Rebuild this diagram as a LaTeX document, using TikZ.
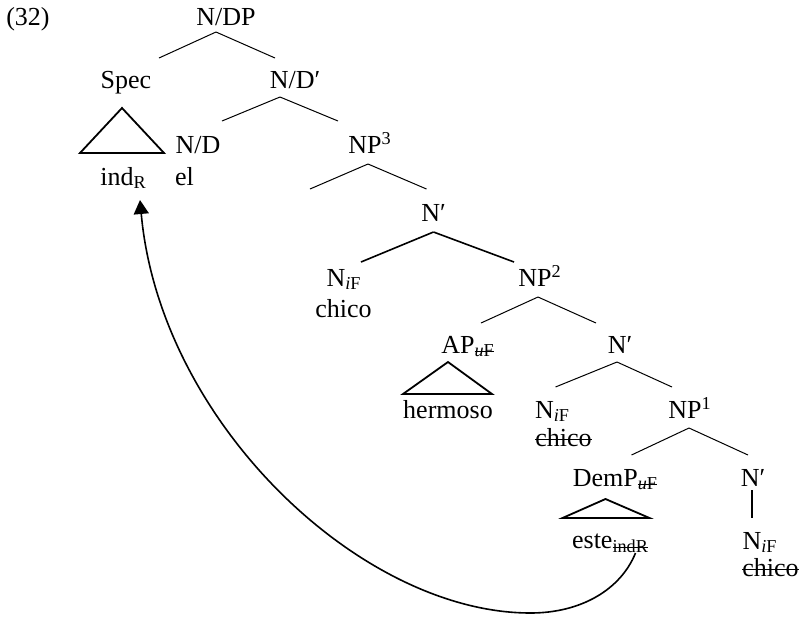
\documentclass[tikz,border=0pt]{standalone}
\usepackage{fontspec}
\setmainfont{Liberation Serif}
\usetikzlibrary{%
	calc,%
	arrows.meta,%
}
\tikzset{
	>=Triangle,%
	catnode/.style={%
			inner sep=0pt,%
			anchor=base,%
			font={\fontsize{13}{15}\selectfont}},%
	branch/.style={line width=0.5pt},%
	heavybranch/.style={line width=0.8pt},%
	roof/.style={%
			line width=0.9pt,%
			line join=miter},%
	movearrow/.style={%
			-{Triangle[length=7pt, width=7.5pt]},%
			line width=0.8pt},%
}
\newcommand{\strikeout}[1]{\setbox0\hbox{#1}\leavevmode\rlap{\rule[0.5ex]{\wd0}{0.5pt}}\box0}
\newcommand{\featval}[1]{\textsubscript{\textit{#1}F}}
\newcommand{\featdel}[1]{\textsubscript{\strikeout{\textit{#1}F}}}

\begin{document}
\begin{tikzpicture}[x=0.5pt, y=-0.5pt]%
	\useasboundingbox (0,0) rectangle (804,617);

	\node[catnode] (ex) at (28,25) {(32)};

	% upper part
	\node[catnode] (ndp) at (226,25) {N/DP};
	\node[catnode] (spec) at (126,88) {Spec};
	\node[catnode] (ndbar) at (295,88) {N/D′};
	\node[catnode] (nd) at (198,153) {N/D};
	\node[catnode] (np3) at (370,153) {NP\textsuperscript{3}};
	\node[catnode] (ind) at (123.5,185) {ind\textsubscript{R}};
	\node[catnode] (el) at (184.5,185) {el};
	\node[catnode] (nbara) at (433.5,221) {N′};
	\node[catnode] (nifa) at (344,286) {N\featval{i}};
	\node[catnode] (chicoa) at (343.5,317) {chico};
	\node[catnode] (np2) at (540,286) {NP\textsuperscript{2}};

	% lower part
	\node[catnode] (ap) at (468,353) {AP\featdel{u}};
	\node[catnode] (nbarb) at (620,353) {N′};
	\node[catnode] (hermoso) at (448,418) {hermoso};
	\node[catnode] (nifb) at (552.5,418) {N\featval{i}};
	\node[catnode] (chicob) at (563.5,446) {\strikeout{chico}};
	\node[catnode] (np1) at (690,418) {NP\textsuperscript{1}};
	\node[catnode] (dem) at (615.5,486) {DemP\featdel{u}};
	\node[catnode] (nbarc) at (753,486) {N′};
	\node[catnode] (este) at (610.5,548) {este\textsubscript{\strikeout{indR}}};
	\node[catnode] (nifc) at (760,549) {N\featval{i}};
	\node[catnode] (chicoc) at (770.5,576) {\strikeout{chico}};

	\coordinate (np3spec) at (310,189);

	\draw[branch] ($(ndp.base)+(-10,7)$) -- ($(spec.base)+(33,-30)$);
	\draw[branch] ($(ndp.base)+(-10,7)$) -- ($(ndbar.base)+(-20,-30)$);
	\draw[branch] ($(ndbar.base)+(-15,9)$) -- ($(nd.base)+(24,-32)$);
	\draw[branch] ($(ndbar.base)+(-15,9)$) -- ($(np3.base)+(-32,-32)$);
	\draw[roof] ($(spec.base)+(-4,20)$) -- ++(-42,45) -- ++(84,0) -- cycle;
	\draw[branch] ($(np3.base)+(-2,11)$) -- (np3spec);
	\draw[branch] ($(np3.base)+(-2,11)$) -- ($(nbara.base)+(-7,-32)$);
	\draw[heavybranch] ($(nbara.base)+(0,11)$) -- ($(nifa.base)+(17,-24)$);
	\draw[heavybranch] ($(nbara.base)+(0,11)$) -- ($(np2.base)+(-26,-24)$);
	\draw[branch] ($(np2.base)+(-2,11)$) -- ($(ap.base)+(13,-30)$);
	\draw[branch] ($(np2.base)+(-2,11)$) -- ($(nbarb.base)+(-24,-30)$);
	\draw[roof] ($(ap.base)+(-20,9)$) -- ++(-45,32) -- ++(89,0) -- cycle;
	\draw[branch] ($(nbarb.base)+(-3,9)$) -- ($(nifb.base)+(3,-31)$);
	\draw[branch] ($(nbarb.base)+(-3,9)$) -- ($(np1.base)+(-18,-31)$);
	\draw[branch] ($(np1.base)+(-1,10)$) -- ($(dem.base)+(16,-31)$);
	\draw[branch] ($(np1.base)+(-1,10)$) -- ($(nbarc.base)+(-5,-31)$);
	\draw[roof] ($(dem.base)+(-10,13)$) -- ++(-43,19) -- ++(87,0) -- cycle;
	\draw[heavybranch] ($(nbarc.base)+(-1,4)$) -- ($(nifc.base)+(-8,-31)$);

	\draw[movearrow] ($(este.base)+(25,5)$) .. controls +(-15,37) and +(50,0) .. ++(-105,60)
		.. controls +(-170,0) and +(20,222) .. ($(ind.base)+(16.5,15)$);
\end{tikzpicture}
\end{document}
